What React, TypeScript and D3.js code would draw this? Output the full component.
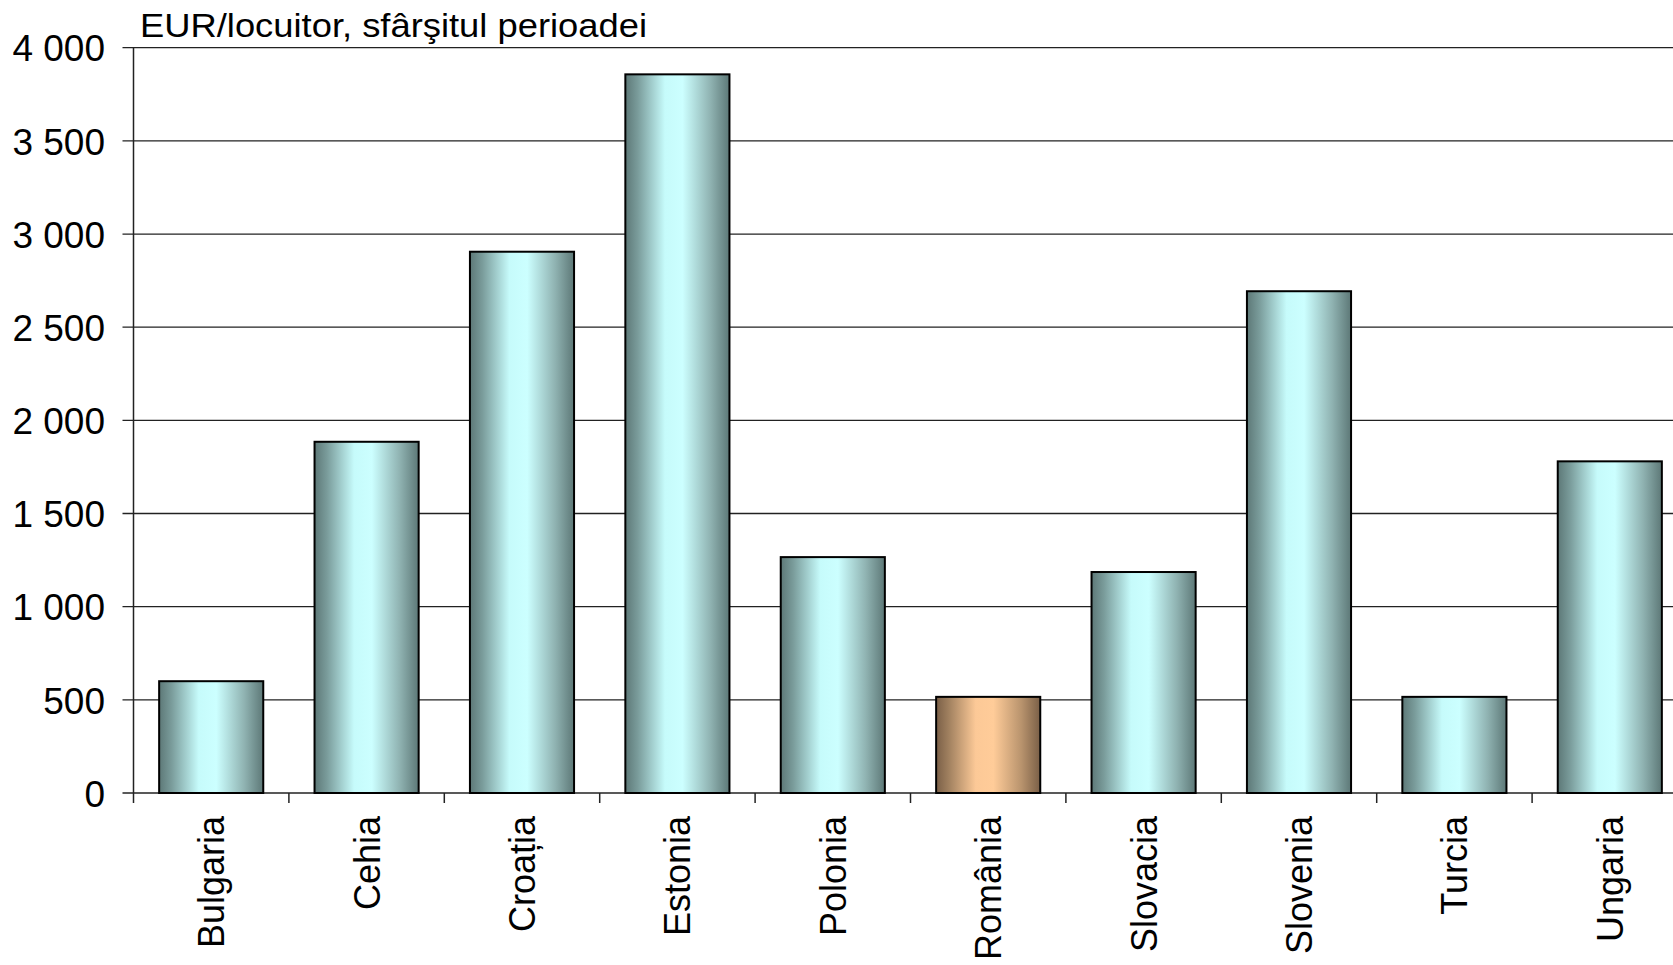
import React from "react";
import * as d3 from "d3";

const categories = ["Bulgaria", "Cehia", "Croația", "Estonia", "Polonia", "România", "Slovacia", "Slovenia", "Turcia", "Ungaria"];
const values = [600, 1885, 2905, 3857, 1266, 516, 1186, 2693, 516, 1780];
const highlight = ["România"];
const yTicks = [0, 500, 1000, 1500, 2000, 2500, 3000, 3500, 4000];
const unitLabel = "EUR/locuitor, sfârşitul perioadei";

const W = 1673;
const H = 965;
const left = 133.5;
const top = 47.7;
const bottom = 793;
const catW = 155.4;

export default function App() {
  const x = d3
    .scaleBand<string>()
    .domain(categories)
    .range([left, left + catW * categories.length])
    .paddingInner(0.33)
    .paddingOuter(0.165);
  const y = d3.scaleLinear().domain([0, 4000]).range([bottom, top]);
  const fmt = (v: number) => d3.format(",")(v).replace(/,/g, " ");
  const font = "Arial, 'Liberation Sans', sans-serif";
  const step = catW;

  return (
    <svg width={W} height={H} style={{ position: "absolute", left: 0, top: 0, background: "#fff" }} fontFamily={font}>
      <defs>
        <linearGradient id="gBlue" x1="0" x2="1" y1="0" y2="0">
          <stop offset="0" stopColor="#5d7877" />
          <stop offset="0.12" stopColor="#7a9c9b" />
          <stop offset="0.38" stopColor="#c6fbfb" />
          <stop offset="0.55" stopColor="#ccffff" />
          <stop offset="0.82" stopColor="#8fb2b1" />
          <stop offset="1" stopColor="#5d7877" />
        </linearGradient>
        <linearGradient id="gOrange" x1="0" x2="1" y1="0" y2="0">
          <stop offset="0" stopColor="#7a5f47" />
          <stop offset="0.12" stopColor="#a0805f" />
          <stop offset="0.38" stopColor="#fcc997" />
          <stop offset="0.55" stopColor="#ffcc99" />
          <stop offset="0.82" stopColor="#b8936d" />
          <stop offset="1" stopColor="#7a5f47" />
        </linearGradient>
      </defs>
      {yTicks.map((t) => (
        <g key={t}>
          <line x1={left - 11} x2={W} y1={y(t)} y2={y(t)} stroke="#222" strokeWidth={1.3} />
          <text x={105} y={y(t)} dy="0.37em" textAnchor="end" fontSize={37} fill="#000">
            {fmt(t)}
          </text>
        </g>
      ))}
      <line x1={left} x2={left} y1={top} y2={bottom} stroke="#222" strokeWidth={1.5} />
      {categories.map((c, i) => (
        <line key={"t" + i} x1={left + i * step} x2={left + i * step} y1={bottom} y2={bottom + 10} stroke="#222" strokeWidth={1.5} />
      ))}
      {categories.map((c, i) => (
        <rect
          key={c}
          x={x(c)}
          y={y(values[i])}
          width={x.bandwidth()}
          height={bottom - y(values[i])}
          fill={highlight.includes(c) ? "url(#gOrange)" : "url(#gBlue)"}
          stroke="#000"
          strokeWidth={2}
        />
      ))}
      {categories.map((c) => {
        const cx = (x(c) as number) + x.bandwidth() / 2;
        return (
          <text
            key={"l" + c}
            transform={`translate(${cx},816) rotate(-90)`}
            textAnchor="end"
            dy="0.36em"
            fontSize={36}
            fill="#000"
          >
            {c}
          </text>
        );
      })}
      <text x={140} y={36.7} fontSize={33} textLength={507} lengthAdjust="spacingAndGlyphs" fill="#000">
        {unitLabel}
      </text>
    </svg>
  );
}
